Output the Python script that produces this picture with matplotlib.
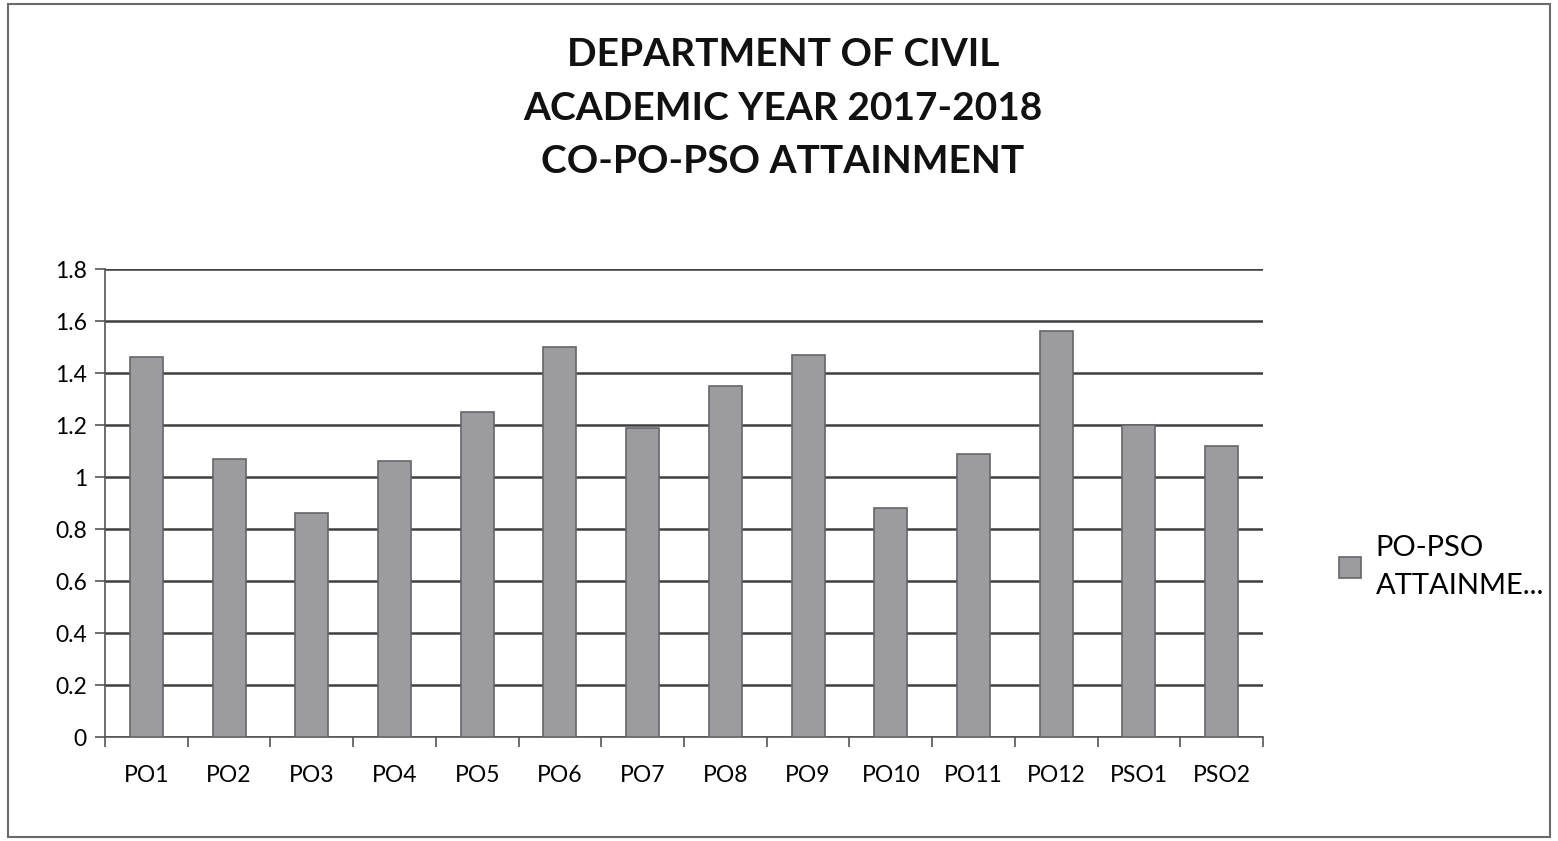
import matplotlib.pyplot as plt
from matplotlib.patches import Rectangle
import numpy as np

# PO-PSO attainment values
categories = ['PO1', 'PO2', 'PO3', 'PO4', 'PO5', 'PO6', 'PO7', 'PO8', 'PO9',
              'PO10', 'PO11', 'PO12', 'PSO1', 'PSO2']
attainment = [1.46, 1.07, 0.86, 1.06, 1.25, 1.50, 1.19, 1.35, 1.47,
              0.88, 1.09, 1.56, 1.20, 1.12]
y_ticks = [0, 0.2, 0.4, 0.6, 0.8, 1, 1.2, 1.4, 1.6, 1.8]
y_labels = ['0', '0.2', '0.4', '0.6', '0.8', '1', '1.2', '1.4', '1.6', '1.8']

plt.rcParams['font.family'] = ['Lato', 'DejaVu Sans']

W, H = 1558, 841
fig = plt.figure(figsize=(W / 100, H / 100), dpi=100)
fig.patch.set_facecolor('white')

# outer chart border
fig.add_artist(Rectangle((8 / W, 4 / H), 1542 / W, 833 / H, transform=fig.transFigure,
                         fill=False, edgecolor='#6a6a6a', linewidth=1.5))

ax = fig.add_axes([105 / W, 1 - 737 / H, (1263 - 105) / W, (737 - 269) / H])

x = np.arange(len(categories))
ax.bar(x, attainment, width=0.4, color='#9c9ca0', edgecolor='#66666a',
       linewidth=1.2, zorder=3, label='PO-PSO\nATTAINME...')

ax.set_ylim(0, 1.8)
ax.set_xlim(-0.5, len(categories) - 0.5)
ax.set_yticks(y_ticks)
ax.set_yticklabels(y_labels)
ax.yaxis.grid(True, color='#3f3f3f', linewidth=1.8, zorder=0)

ax.set_xticks(x)
ax.set_xticklabels(categories)
ax.set_xticks(np.arange(-0.5, len(categories)), minor=True)
ax.tick_params(axis='x', which='major', length=0, pad=20, labelsize=16.5)
ax.tick_params(axis='x', which='minor', length=7, width=1.2, color='#555555', direction='out')
ax.tick_params(axis='y', length=7, width=1.2, color='#555555', labelsize=16.5, pad=6)

for side in ['top', 'right']:
    ax.spines[side].set_visible(False)
ax.spines['left'].set_color('#555555')
ax.spines['bottom'].set_color('#555555')
ax.spines['left'].set_linewidth(1.2)
ax.spines['bottom'].set_linewidth(1.2)

fig.text(783 / W, 1 - 108 / H,
         'DEPARTMENT OF CIVIL\nACADEMIC YEAR 2017-2018\nCO-PO-PSO ATTAINMENT',
         ha='center', va='center', fontsize=28, fontweight='bold',
         linespacing=1.65, color='#111111')

leg = ax.legend(loc='center left', bbox_to_anchor=(1313 / W, 1 - 567 / H),
                bbox_transform=fig.transFigure, frameon=False, fontsize=21,
                handlelength=0.75, handleheight=0.75, handletextpad=0.5)
for t in leg.get_texts():
    t.set_linespacing(1.55)

fig.savefig('out.png', dpi=100)
